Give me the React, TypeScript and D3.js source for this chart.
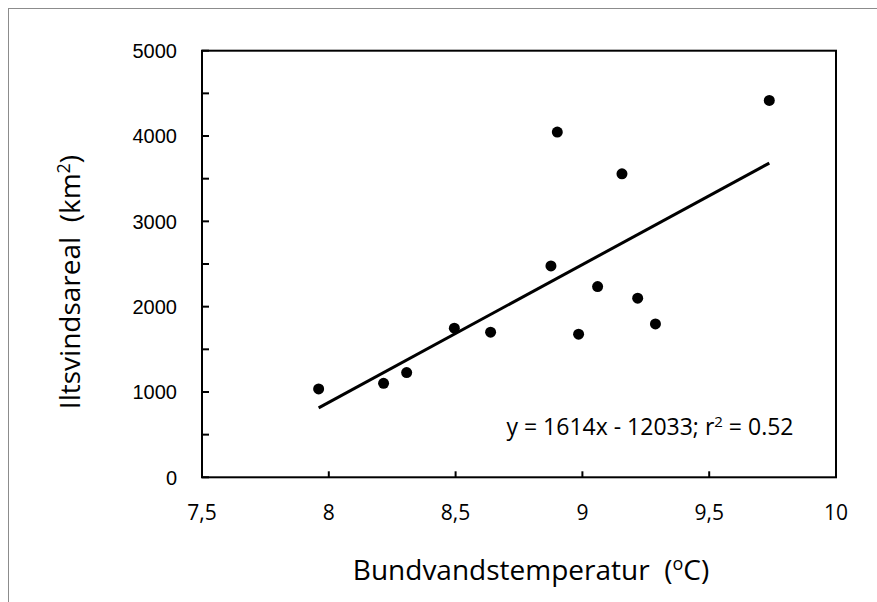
import React from "react";
import * as d3 from "d3";

const temps = [7.96, 8.216, 8.307, 8.495, 8.638, 8.901, 9.156, 8.876, 9.06, 9.218, 9.288, 8.985, 9.737];
const areas = [1036, 1102, 1227, 1748, 1701, 4046, 3557, 2478, 2236, 2099, 1798, 1677, 4417];
const xTicks = [7.5, 8, 8.5, 9, 9.5, 10];
const xTickLabels = ["7,5", "8", "8,5", "9", "9,5", "10"];
const yTicks = [0, 500, 1000, 1500, 2000, 2500, 3000, 3500, 4000, 4500, 5000];
const yTickLabels = [0, 1000, 2000, 3000, 4000, 5000];
const slope = 1614;
const intercept = -12033;

export default function App() {
  const W = 877, H = 602;
  const left = 202, right = 836, top = 50.7, bottom = 477.3;
  const x = d3.scaleLinear().domain([7.5, 10]).range([left, right]);
  const y = d3.scaleLinear().domain([0, 5000]).range([bottom, top]);
  const xMin = d3.min(temps) as number;
  const xMax = d3.max(temps) as number;
  const trend = d3.line<number>().x((d) => x(d)).y((d) => y(slope * d + intercept));
  const yFont = "'Liberation Sans', Arial, sans-serif";
  const cFont = "'Open Sans', 'Noto Sans', sans-serif";
  return (
    <svg width={W} height={H} style={{ position: "absolute", left: 0, top: 0, background: "#fff" }}>
      <rect x={8.5} y={8.5} width={1000} height={1000} fill="#fff" stroke="#8c8c8c" strokeWidth={1} />
      <rect x={left} y={top} width={right - left} height={bottom - top} fill="none" stroke="#000" strokeWidth={2} />
      {yTicks.map((t) => (
        <line key={"yt" + t} x1={left} x2={left + 7} y1={y(t)} y2={y(t)} stroke="#000" strokeWidth={2} />
      ))}
      {xTicks.map((t) => (
        <line key={"xt" + t} x1={x(t)} x2={x(t)} y1={bottom} y2={bottom - 6} stroke="#000" strokeWidth={2} />
      ))}
      {yTickLabels.map((t) => (
        <text key={"yl" + t} x={177} y={y(t)} dy="0.36em" textAnchor="end" fontFamily={yFont} fontSize={20} fill="#000">
          {t}
        </text>
      ))}
      {xTicks.map((t, i) => (
        <text key={"xl" + t} x={x(t)} y={520} textAnchor="middle" fontFamily={cFont} fontSize={21} fill="#000">
          {xTickLabels[i]}
        </text>
      ))}
      <path d={trend([xMin, xMax]) as string} fill="none" stroke="#000" strokeWidth={3} />
      {temps.map((t, i) => (
        <circle key={"p" + i} cx={x(t)} cy={y(areas[i])} r={5.5} fill="#000" />
      ))}
      <text x={650} y={435} textAnchor="middle" fontFamily={cFont} fontSize={23} fill="#000">
        y = 1614x - 12033; r<tspan dy="-8" fontSize={15}>2</tspan><tspan dy="8"> = 0.52</tspan>
      </text>
      <text x={531} y={580} textAnchor="middle" fontFamily={cFont} fontSize={28} fill="#000">
        {"Bundvandstemperatur\u00a0 ("}<tspan dy="-10" fontSize={18}>o</tspan><tspan dy="10">C)</tspan>
      </text>
      <text transform="translate(80,282) rotate(-90)" textAnchor="middle" fontFamily={cFont} fontSize={28} fill="#000">
        {"Iltsvindsareal\u00a0 (km"}<tspan dy="-10" fontSize={18}>2</tspan><tspan dy="10">)</tspan>
      </text>
    </svg>
  );
}
